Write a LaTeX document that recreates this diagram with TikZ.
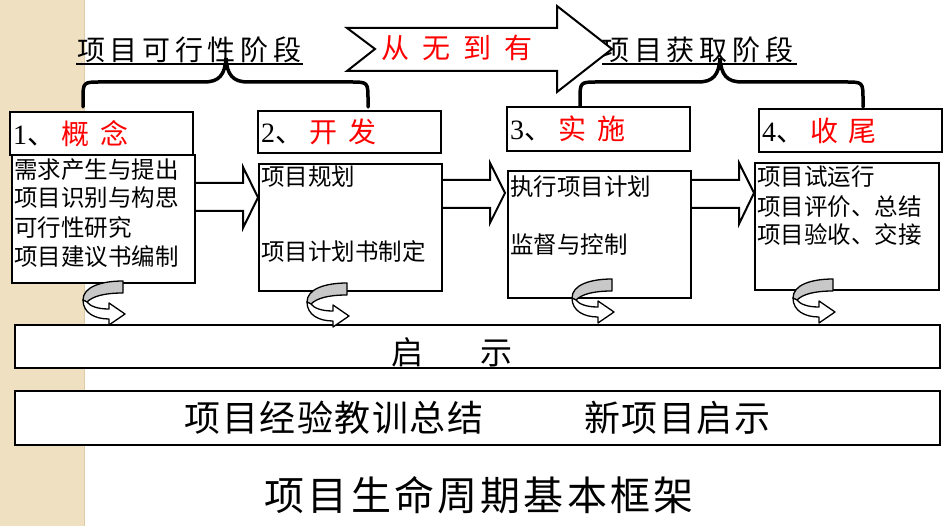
\documentclass[tikz,border=0pt]{standalone}
\usepackage{fontspec}
\setmainfont{Liberation Serif}
\newfontfamily\cjk{Noto Sans CJK SC}
\def\myls#1{\def\mylsamt{#1}\mylsa}
\def\mylsa#1{\ifx\relax#1\unskip\else#1\hskip\mylsamt\relax\expandafter\mylsa\fi}
\definecolor{beige}{RGB}{240,224,194}
\definecolor{beigeedge}{RGB}{222,204,168}
\definecolor{bandgray}{RGB}{200,200,200}
\tikzset{
  bx/.style={draw=black, line width=2pt, fill=white, inner sep=0pt},
  titlebox/.style={bx, minimum width=183pt, minimum height=43pt, text width=177pt, align=left, inner xsep=3pt},
  contentbox/.style={bx, minimum width=183pt, minimum height=127pt},
  blockarrow/.style={draw=black, fill=white, line width=2pt, line join=miter},
  brace/.style={draw=black, line width=3.5pt, line cap=round},
  heading/.style={anchor=base west, inner sep=0pt, font=\fontsize{28}{28}\cjk},
  line/.style={anchor=base west, inner sep=0pt, font=\fontsize{23.5}{28}\cjk},
  uturn/.pic={
    \filldraw[fill=bandgray, draw=black, line width=1.3pt, line join=round]
      (0,0) -- (0,12) .. controls (-18,12) and (-30,15) .. (-36,21) -- (-40,19)
      .. controls (-40,6) and (-22,0) .. (0,0) -- cycle;
    \filldraw[fill=white, draw=black, line width=1.3pt, line join=round]
      (-40,19) .. controls (-40,32) and (-28,38) .. (-14,38) -- (-14,44) -- (2,33)
      -- (-14,22) -- (-14,28) .. controls (-26,28) and (-33,25) .. (-36,21) -- cycle;
  }
}
\begin{document}
\begin{tikzpicture}[x=1pt,y=-1pt]
\useasboundingbox (0,0) rectangle (950,526);
\fill[white] (0,0) rectangle (950,526);
\fill[beige] (0,0) rectangle (85,526);
\draw[beigeedge, line width=1.5pt] (84.5,0) -- (84.5,526);

% headings
\node[heading] (h1) at (77,61) {\myls{4.7pt}项目可行性阶段\relax};
\draw[line width=2pt] (76,64) -- (303,64);
\node[heading] (h2) at (601,61) {\myls{4.9pt}项目获取阶段\relax};
\draw[line width=2pt] (602,64) -- (797,64);

% braces
\draw[brace] (83,107) -- (83,100) .. controls (83,82) .. (101,82) -- (204,82)
  .. controls (219,82) and (225,75) .. (226,58) .. controls (227,75) and (233,82) .. (248,82)
  -- (350,82) .. controls (368,82) .. (368,100) -- (368,107);
\draw[brace] (580,107) -- (580,100) .. controls (580,82) .. (598,82) -- (698,82)
  .. controls (713,82) and (719,75) .. (720,58) .. controls (721,75) and (727,82) .. (742,82)
  -- (845,82) .. controls (863,82) .. (863,100) -- (863,107);

% big arrow
\draw[blockarrow] (347,28) -- (375,49) -- (347,71) -- (557,71) -- (557,92) -- (612,49)
  -- (557,6) -- (557,28) -- cycle;
\node[anchor=base, inner sep=0pt, font=\fontsize{28}{28}\cjk, text=red] (cwdy) at (457,59)
  {\myls{13pt}从无到有\relax};

% content boxes
\node[contentbox, minimum height=128pt] (c1) at (103.5,219) {};
\node[contentbox] (c2) at (350.5,227.5) {};
\node[contentbox] (c3) at (599.5,234.5) {};
\node[contentbox, minimum width=184pt] (c4) at (847,226.5) {};

% title boxes
\node[titlebox] (t1) at (101.5,133.5) {\fontsize{28}{28}\selectfont 1{\cjk 、\hspace{6pt}\color{red}概\hspace{12pt}念}};
\node[titlebox, minimum height=42pt] (t2) at (349.5,132) {\fontsize{28}{28}\selectfont 2{\cjk 、\hspace{6pt}\color{red}开\hspace{12pt}发}};
\node[titlebox, minimum height=44pt] (t3) at (598.5,129) {\fontsize{28}{28}\selectfont 3{\cjk 、\hspace{6pt}\color{red}实\hspace{12pt}施}};
\node[titlebox] (t4) at (850.5,130.5) {\fontsize{28}{28}\selectfont 4{\cjk 、\hspace{6pt}\color{red}收\hspace{10pt}尾}};

% content text
\node[line] (a1) at (14,179) {需求产生与提出};
\node[line] (a2) at (14,207) {项目识别与构思};
\node[line] (a3) at (14,237) {可行性研究};
\node[line] (a4) at (14,266) {项目建议书编制};
\node[line] (b1) at (261,186) {项目规划};
\node[line] (b2) at (261,261) {项目计划书制定};
\node[line] (d1) at (510,196) {执行项目计划};
\node[line] (d2) at (510,254) {监督与控制};
\node[line] (e1) at (757,186) {项目试运行};
\node[line] (e2) at (757,216) {项目评价、总结};
\node[line] (e3) at (757,244) {项目验收、交接};

% block arrows between boxes
\draw[blockarrow] (c1.east |- 0,183) -- (243,183) -- (243,167) -- (c2.west |- 0,197.5)
  -- (243,228) -- (243,211) -- (c1.east |- 0,211);
\draw[blockarrow] (c2.east |- 0,180) -- (490,180) -- (490,163) -- (505,193)
  -- (490,223) -- (490,208) -- (c2.east |- 0,208);
\draw[blockarrow] (c3.east |- 0,180) -- (739,180) -- (739,163) -- (754,193)
  -- (739,224) -- (739,208) -- (c3.east |- 0,208);

% bottom boxes
\node[bx, minimum width=925pt, minimum height=43pt] (qs) at (477.5,346.5) {};
\node[anchor=base, inner sep=0pt, font=\fontsize{32}{32}\cjk] (qstext) at (452,365)
  {启\hspace{57pt}示};
\node[bx, minimum width=925pt, minimum height=54pt, font=\fontsize{36}{36}\cjk] (exp) at (477.5,418)
  {\myls{1.5pt}项目经验教训总结\relax\hspace{101pt}\myls{1.5pt}新项目启示\relax};

% curved arrows
\pic at (123,281) {uturn};
\pic at (347,283) {uturn};
\begin{scope}[shift={(612,279)}, xscale=-1]
  \pic {uturn};
\end{scope}
\begin{scope}[shift={(833,279)}, xscale=-1]
  \pic {uturn};
\end{scope}

% caption
\node[anchor=base, inner sep=0pt, font=\fontsize{40}{40}\cjk] (cap) at (479,510)
  {\myls{3.2pt}项目生命周期基本框架\relax};
\end{tikzpicture}
\end{document}
